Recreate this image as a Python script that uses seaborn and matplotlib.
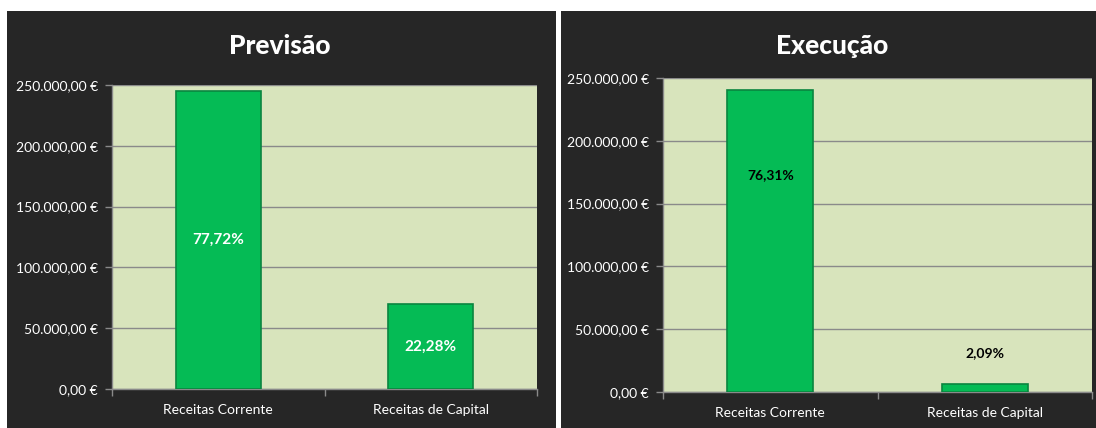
import matplotlib
matplotlib.use("Agg")
import matplotlib.pyplot as plt
import seaborn as sns
from matplotlib.patches import Rectangle
from matplotlib.ticker import FuncFormatter, MultipleLocator, FixedLocator

# data
categorias = ["Receitas Corrente", "Receitas de Capital"]
previsao = [245000, 70230]
previsao_pct = ["77,72%", "22,28%"]
execucao = [240560, 6590]
execucao_pct = ["76,31%", "2,09%"]

sns.set_style("white")
plt.rcParams["font.family"] = ["Lato", "DejaVu Sans"]

W, H = 1096, 428
fig = plt.figure(figsize=(W / 100, H / 100), dpi=100, facecolor="white")

dark = "#262626"
plot_bg = "#d8e4bc"
grid_c = "#8a8a8a"
bar_c = "#05bb55"
edge_c = "#0a8540"


def px_box(x0, y0, x1, y1):
    # pixel box (top-left origin) -> figure fraction
    return [x0 / W, 1 - y1 / H, (x1 - x0) / W, (y1 - y0) / H]


# dark panel backgrounds (behind the axes)
for x0, x1 in [(7, 556), (561, 1096)]:
    b = px_box(x0, 11, x1, 428)
    fig.patches.append(Rectangle((b[0], b[1]), b[2], b[3], transform=fig.transFigure,
                                 facecolor=dark, edgecolor="none", zorder=-5))


def euro(v, pos):
    s = f"{v:,.2f}".replace(",", "X").replace(".", ",").replace("X", ".")
    return s + " €"


def painel(box, valores, titulo, title_x):
    ax = fig.add_axes(px_box(*box))
    sns.barplot(x=categorias, y=valores, ax=ax, color=bar_c, saturation=1,
                width=0.4, edgecolor=edge_c, linewidth=1.2, zorder=3)
    ax.set_facecolor(plot_bg)
    ax.set_ylim(0, 250000)
    ax.set_xlim(-0.5, 1.5)
    ax.yaxis.set_major_locator(MultipleLocator(50000))
    ax.yaxis.set_major_formatter(FuncFormatter(euro))
    ax.grid(axis="y", color=grid_c, linewidth=1, zorder=0)
    ax.set_axisbelow(True)
    for s in ["top", "right"]:
        ax.spines[s].set_visible(False)
    for s in ["left", "bottom"]:
        ax.spines[s].set_color(grid_c)
        ax.spines[s].set_linewidth(1)
    ax.tick_params(axis="y", colors="white", labelsize=10, length=5, width=1,
                   color=grid_c, pad=5, left=True)
    ax.tick_params(axis="x", which="major", colors="white", labelsize=10, length=0, pad=11)
    ax.xaxis.set_minor_locator(FixedLocator([-0.5, 0.5, 1.5]))
    ax.tick_params(axis="x", which="minor", length=5, width=1, color=grid_c, bottom=True)
    ax.set_xlabel("")
    ax.set_ylabel("")
    tb = px_box(title_x - 1, 46, title_x + 1, 46)
    fig.text(tb[0], tb[1], titulo, color="white", fontsize=19, fontweight="black",
             ha="center", va="center")
    return ax


ax1 = painel((112, 85, 537, 389), previsao, "Previsão", 281)
for i, (v, t) in enumerate(zip(previsao, previsao_pct)):
    ax1.text(i, v / 2, t, color="white", fontsize=11, fontweight="bold",
             ha="center", va="center", zorder=5)

ax2 = painel((663, 78, 1092, 392), execucao, "Execução", 833)
ax2.text(0, execucao[0] - 68000, execucao_pct[0], color="black", fontsize=10,
         fontweight="bold", ha="center", va="center", zorder=5)
ax2.text(1, execucao[1] + 24500, execucao_pct[1], color="black", fontsize=10,
         fontweight="bold", ha="center", va="center", zorder=5)

fig.savefig("out.png", dpi=100, facecolor="white")
